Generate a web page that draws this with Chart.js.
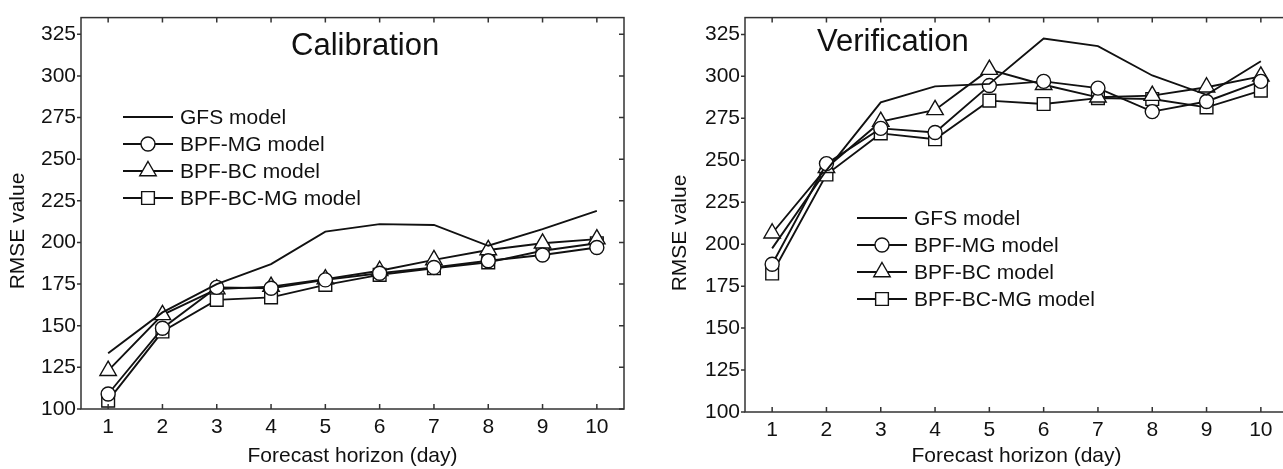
<!DOCTYPE html>
<html>
<head>
<meta charset="utf-8">
<script src="https://cdn.jsdelivr.net/npm/chart.js@4/dist/chart.umd.min.js"></script>
<style>
  html, body { margin: 0; padding: 0; background: #fff; overflow: hidden; }
  body { width: 1283px; height: 469px; position: relative; }
  .panel { position: absolute; top: 0; }
</style>
</head>
<body>
<div class="panel" style="left:0"><canvas id="calChart" width="640" height="469"></canvas></div>
<div class="panel" style="left:640px"><canvas id="verChart" width="660" height="469"></canvas></div>
<script>
// forecast horizon (days) and axis ticks
const days = [1, 2, 3, 4, 5, 6, 7, 8, 9, 10];
const yTicks = [100, 125, 150, 175, 200, 225, 250, 275, 300, 325];
const seriesNames = ['GFS model', 'BPF-MG model', 'BPF-BC model', 'BPF-BC-MG model'];

// Calibration RMSE
const gfsCal  = [133.5, 158, 175, 187, 206.5, 211, 210.5, 198, 208, 219];
const mgCal   = [109, 148.5, 173, 172.5, 177.5, 181.5, 185, 189, 192.5, 197];
const bcCal   = [123, 156.5, 172, 173.5, 178, 183, 189.5, 195.5, 199.5, 202];
const bcmgCal = [105, 146.5, 165.5, 167, 174.5, 180.5, 184.5, 188, 195, 199.5];

// Verification RMSE
const gfsVer  = [197.5, 244, 284.5, 294, 295.5, 322.5, 318, 300.5, 289, 309];
const mgVer   = [188, 248, 269, 266.5, 294.5, 297, 293, 279, 285, 297];
const bcVer   = [206.5, 245.5, 273, 280, 304, 295, 287.5, 288.5, 293.5, 300];
const bcmgVer = [182.5, 241.5, 266, 262.5, 285.5, 283.5, 287, 286.5, 281.5, 291.5];

const FONT = '"Liberation Sans", Arial, Helvetica, sans-serif';
const markerStyles = [false, 'circle', 'triangle', 'rect'];
const markerRadius = [0, 7, 9.5, 9];

function makeDatasets(lists) {
  return lists.map((vals, i) => ({
    label: seriesNames[i],
    data: days.map((d, k) => ({ x: d, y: vals[k] })),
    borderColor: '#111',
    borderWidth: 1.9,
    backgroundColor: '#fff',
    pointStyle: markerStyles[i],
    pointRadius: markerRadius[i],
    pointBorderWidth: 1.4,
    pointBorderColor: '#111',
    pointBackgroundColor: '#fff',
    tension: 0
  }));
}

// frame, inside ticks, title, y title and legend
const panelDecor = {
  id: 'panelDecor',
  afterDraw(chart, args, opts) {
    const { ctx, chartArea: a, scales } = chart;
    ctx.save();
    ctx.strokeStyle = '#333';
    ctx.lineWidth = 1.5;
    ctx.strokeRect(a.left, a.top, a.right - a.left, a.bottom - a.top);
    ctx.beginPath();
    days.forEach(d => {
      const x = scales.x.getPixelForValue(d);
      ctx.moveTo(x, a.bottom); ctx.lineTo(x, a.bottom - 5);
      ctx.moveTo(x, a.top); ctx.lineTo(x, a.top + 5);
    });
    yTicks.forEach(v => {
      const y = scales.y.getPixelForValue(v);
      ctx.moveTo(a.left, y); ctx.lineTo(a.left - 4, y);
      ctx.moveTo(a.right, y); ctx.lineTo(a.right - 5, y);
    });
    ctx.stroke();

    ctx.fillStyle = '#111';
    ctx.textBaseline = 'middle';
    ctx.textAlign = 'left';
    ctx.font = '31px ' + FONT;
    ctx.fillText(opts.title, opts.titleX, opts.titleY);

    ctx.save();
    ctx.translate(opts.yTitleX, opts.yTitleY);
    ctx.rotate(-Math.PI / 2);
    ctx.textAlign = 'center';
    ctx.font = '21px ' + FONT;
    ctx.fillText('RMSE value', 0, 0);
    ctx.restore();

    ctx.font = '21px ' + FONT;
    chart.data.datasets.forEach((ds, i) => {
      const y = opts.legendY + i * 27;
      ctx.strokeStyle = '#111';
      ctx.lineWidth = 1.8;
      ctx.beginPath();
      ctx.moveTo(opts.legendX, y);
      ctx.lineTo(opts.legendX + 50, y);
      ctx.stroke();
      if (ds.pointStyle) {
        ctx.fillStyle = '#fff';
        ctx.lineWidth = 1.4;
        Chart.helpers.drawPoint(ctx, {
          pointStyle: ds.pointStyle, radius: ds.pointRadius, rotation: 0, borderWidth: 1.4
        }, opts.legendX + 25, y);
      }
      ctx.fillStyle = '#111';
      ctx.fillText(ds.label, opts.legendX + 57, y + 1);
    });
    ctx.restore();
  }
};

function makeChart(id, lists, pad, yWidth, decor) {
  return new Chart(document.getElementById(id), {
    type: 'line',
    data: { datasets: makeDatasets(lists) },
    options: {
      responsive: false,
      animation: false,
      devicePixelRatio: 1,
      layout: { padding: pad },
      plugins: { legend: { display: false }, tooltip: { enabled: false }, panelDecor: decor },
      scales: {
        x: {
          type: 'linear', min: 0.5, max: 10.5,
          afterBuildTicks: s => { s.ticks = days.map(v => ({ value: v })); },
          afterFit: s => { s.height = 469 - pad.top - pad.bottom - (399); },
          grid: { display: false, drawTicks: false },
          border: { display: false },
          ticks: { color: '#111', font: { family: FONT, size: 21 }, padding: 6, maxRotation: 0 },
          title: { display: true, text: 'Forecast horizon (day)', color: '#111',
                   font: { family: FONT, size: 21 }, padding: { top: 0, bottom: 0 } }
        },
        y: {
          type: 'linear', min: 100, max: 335,
          afterBuildTicks: s => { s.ticks = yTicks.map(v => ({ value: v })); },
          afterFit: s => { s.width = yWidth; },
          grid: { display: false, drawTicks: false },
          border: { display: false },
          ticks: { color: '#111', font: { family: FONT, size: 21 }, padding: 5 }
        }
      }
    },
    plugins: [panelDecor]
  });
}

makeChart('calChart', [gfsCal, mgCal, bcCal, bcmgCal],
  { left: 0, right: 16, top: 10, bottom: 0 }, 81,
  { title: 'Calibration', titleX: 291, titleY: 46, yTitleX: 18, yTitleY: 231,
    legendX: 123, legendY: 117 });

makeChart('verChart', [gfsVer, mgVer, bcVer, bcmgVer],
  { left: 0, right: 12, top: 13, bottom: 0 }, 105,
  { title: 'Verification', titleX: 177, titleY: 42, yTitleX: 40, yTitleY: 233,
    legendX: 217, legendY: 218 });
</script>
</body>
</html>
